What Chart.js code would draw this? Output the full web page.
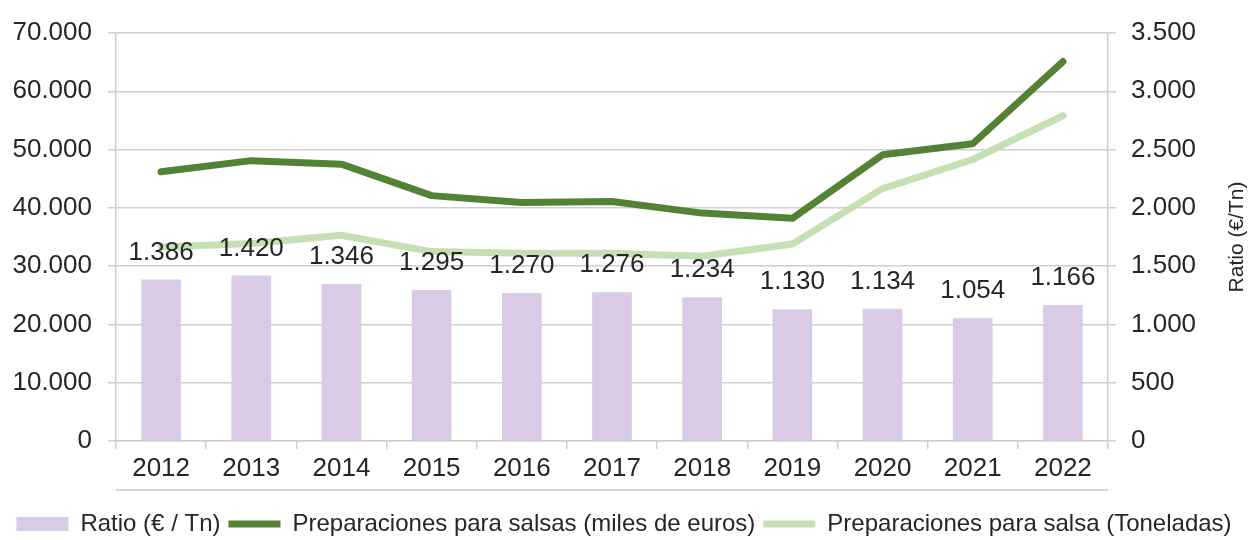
<!DOCTYPE html>
<html>
<head>
<meta charset="utf-8">
<script src="https://cdn.jsdelivr.net/npm/chart.js@4.4.1/dist/chart.umd.min.js"></script>
<style>
  body { margin: 0; background: #fff; }
  #wrap { width: 1248px; height: 540px; position: relative; }
</style>
</head>
<body>
<div id="wrap"><canvas id="salsasChart"></canvas></div>
<script>
// datos del gráfico
var years = ['2012', '2013', '2014', '2015', '2016', '2017', '2018', '2019', '2020', '2021', '2022'];
var ratio = [1386, 1420, 1346, 1295, 1270, 1276, 1234, 1130, 1134, 1054, 1166];
var milesEuros = [46200, 48100, 47500, 42100, 40900, 41100, 39100, 38200, 49100, 51000, 65100];
var toneladas = [33300, 33900, 35300, 32500, 32200, 32200, 31700, 33800, 43300, 48300, 55800];
var leftTicks = [0, 10000, 20000, 30000, 40000, 50000, 60000, 70000];
var rightTicks = [0, 500, 1000, 1500, 2000, 2500, 3000, 3500];

var textColor = '#262626';
var gridColor = '#cfcfcf';

// separador de miles con punto
function fmt(v) {
	return String(v).replace(/\B(?=(\d{3})+(?!\d))/g, '.');
}

// etiquetas encima de las barras + linea inferior + titulo eje derecho
var extras = {
	id: 'extras',
	afterDatasetsDraw: function(chart) {
		var ctx = chart.ctx;
		var meta = chart.getDatasetMeta(0);
		ctx.save();
		ctx.font = '26px "Liberation Sans", Arial, sans-serif';
		ctx.fillStyle = textColor;
		ctx.textAlign = 'center';
		ctx.textBaseline = 'middle';
		meta.data.forEach(function(bar, i) {
			ctx.fillText(fmt(ratio[i]), bar.x, bar.y - 27);
		});
		ctx.restore();
	},
	afterDraw: function(chart) {
		var ctx = chart.ctx;
		var area = chart.chartArea;
		ctx.save();
		ctx.strokeStyle = '#c8c8c8';
		ctx.lineWidth = 1.5;
		ctx.beginPath();
		ctx.moveTo(area.left, 490);
		ctx.lineTo(area.right, 490);
		ctx.stroke();

		ctx.translate(1237, (area.top + area.bottom) / 2);
		ctx.rotate(-Math.PI / 2);
		ctx.font = '21px "Liberation Sans", Arial, sans-serif';
		ctx.fillStyle = textColor;
		ctx.textAlign = 'center';
		ctx.textBaseline = 'middle';
		ctx.fillText('Ratio (€/Tn)', 0, 0);
		ctx.restore();
	}
};

var chartArea = document.getElementById('salsasChart').getContext('2d');
var myChart = new Chart(chartArea, {
	type: 'bar',
	data: {
		labels: years,
		datasets: [{
			type: 'bar',
			label: 'Ratio (€ / Tn)',
			data: ratio,
			yAxisID: 'y1',
			backgroundColor: '#d9cbe5',
			borderWidth: 0,
			barPercentage: 0.44,
			categoryPercentage: 1,
			pointStyle: 'rect'
		},
		{
			type: 'line',
			label: 'Preparaciones para salsas (miles de euros)',
			data: milesEuros,
			yAxisID: 'y',
			borderColor: '#548235',
			backgroundColor: '#548235',
			borderWidth: 7,
			borderCapStyle: 'round',
			borderJoinStyle: 'round',
			pointRadius: 0,
			pointStyle: 'line',
			tension: 0
		},
		{
			type: 'line',
			label: 'Preparaciones para salsa (Toneladas)',
			data: toneladas,
			yAxisID: 'y',
			borderColor: '#c5e0b4',
			backgroundColor: '#c5e0b4',
			borderWidth: 7,
			borderCapStyle: 'round',
			borderJoinStyle: 'round',
			pointRadius: 0,
			pointStyle: 'line',
			tension: 0
		}]
	},
	options: {
		responsive: true,
		maintainAspectRatio: false,
		animation: false,
		layout: { padding: { top: 33, left: 0, right: 0, bottom: 0 } },
		plugins: {
			tooltip: { enabled: false },
			legend: {
				position: 'bottom',
				maxHeight: 36,
				labels: {
					usePointStyle: true,
					pointStyleWidth: 52,
					boxHeight: 14,
					padding: 8,
					color: textColor,
					font: { family: '"Liberation Sans", Arial, sans-serif', size: 24 }
				}
			}
		},
		scales: {
			x: {
				offset: true,
				grid: { display: true, drawOnChartArea: false, drawTicks: true, tickLength: 8, color: gridColor, lineWidth: 1.5 },
				border: { display: true, color: gridColor, width: 1.5 },
				ticks: { color: textColor, padding: 4, maxRotation: 0, font: { family: '"Liberation Sans", Arial, sans-serif', size: 26 } },
				afterFit: function(scale) { scale.height = 63; }
			},
			y: {
				position: 'left',
				min: 0,
				max: 70000,
				afterBuildTicks: function(scale) { scale.ticks = leftTicks.map(function(v) { return { value: v }; }); },
				grid: { color: gridColor, lineWidth: 1.5, tickLength: 8 },
				border: { display: true, color: gridColor, width: 1.5 },
				ticks: {
					color: textColor,
					padding: 16,
					font: { family: '"Liberation Sans", Arial, sans-serif', size: 26 },
					callback: function(v) { return fmt(v); }
				},
				afterFit: function(scale) { scale.width = 116; }
			},
			y1: {
				position: 'right',
				min: 0,
				max: 3500,
				afterBuildTicks: function(scale) { scale.ticks = rightTicks.map(function(v) { return { value: v }; }); },
				grid: { drawOnChartArea: false, drawTicks: true, color: gridColor, lineWidth: 1.5, tickLength: 8 },
				border: { display: true, color: gridColor, width: 1.5 },
				ticks: {
					color: textColor,
					padding: 15,
					font: { family: '"Liberation Sans", Arial, sans-serif', size: 26 },
					callback: function(v) { return fmt(v); }
				},
				afterFit: function(scale) { scale.width = 140; }
			}
		}
	},
	plugins: [extras]
});
</script>
</body>
</html>
